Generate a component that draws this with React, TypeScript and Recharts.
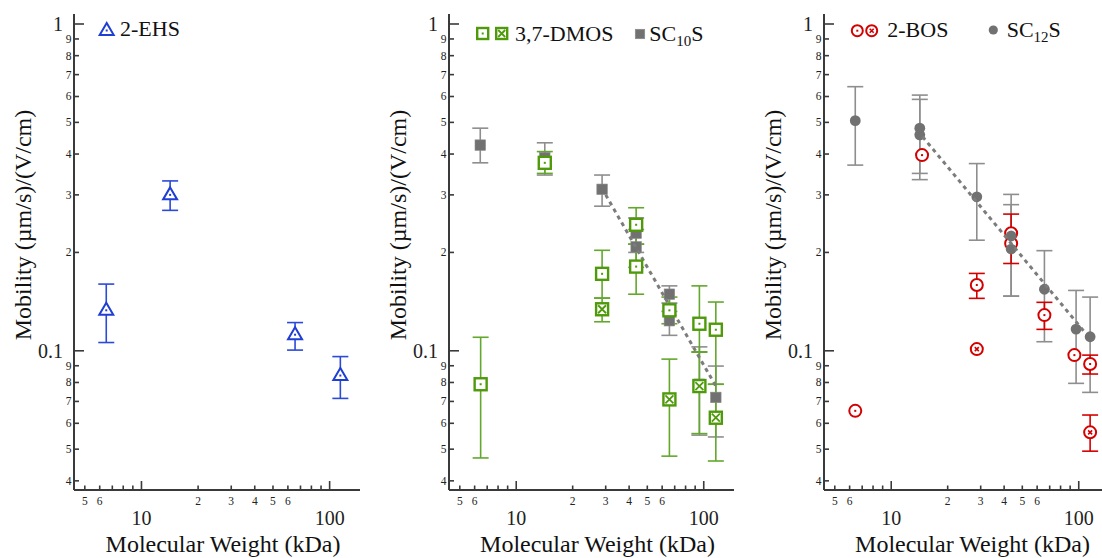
import { ScatterChart, Scatter, XAxis, YAxis, ErrorBar } from 'recharts';

const FONT = "'Liberation Serif', 'DejaVu Serif', 'Times New Roman', Times, serif";
const AXIS = '#3a3a3a';
const BLUE = '#1f3fd4';
const BLUE_ERR = '#2a4ad8';
const GREEN = '#4f9a0a';
const GREEN_ERR = '#63a82c';
const RED = '#d40000';
const GRAY = '#717171';
const GRAY_ERR = '#8e8e8e';

// axes
const xTicks = [5, 6, 7, 8, 9, 10, 20, 30, 40, 50, 60, 70, 80, 90, 100];
const xTickLabels = ['5', '6', '', '', '', '10', '2', '3', '4', '5', '6', '', '', '', '100'];
const xMajor = [10, 100];
const yTicks = [0.04, 0.05, 0.06, 0.07, 0.08, 0.09, 0.1, 0.2, 0.3, 0.4, 0.5, 0.6, 0.7, 0.8, 0.9, 1];
const yTickLabels = ['4', '5', '6', '7', '8', '9', '0.1', '2', '3', '4', '5', '6', '7', '8', '9', '1'];
const yMajor = [0.1, 1];
const xDomain = [4.38, 145];
const yDomain = [0.0375, 1.073];

// 2-EHS
const ehsX = [6.5, 14.2, 65.5, 114];
const ehsY = [0.133, 0.3, 0.112, 0.084];
const ehsLo = [0.106, 0.269, 0.1005, 0.0715];
const ehsHi = [0.16, 0.331, 0.122, 0.096];

// 3,7-DMOS (open square) and crossed square
const dmosX = [6.46, 14.2, 28.7, 43.6, 43.6, 65.6, 94.8, 116];
const dmosY = [0.079, 0.376, 0.172, 0.243, 0.181, 0.133, 0.121, 0.116];
const dmosLo = [0.047, 0.349, 0.145, 0.212, 0.149, 0.121, 0.099, 0.079];
const dmosHi = [0.11, 0.407, 0.203, 0.274, 0.212, 0.146, 0.158, 0.141];

const dmosxX = [28.7, 65.6, 94.8, 116];
const dmosxY = [0.134, 0.071, 0.078, 0.0624];
const dmosxLo = [0.1227, 0.0476, 0.0558, 0.046];
const dmosxHi = [0.145, 0.0943, 0.0993, 0.079];

// SC10S
const sc10X = [6.43, 14.2, 28.7, 43.6, 43.6, 65.6, 65.6, 94.8, 116];
const sc10Y = [0.426, 0.39, 0.312, 0.229, 0.208, 0.149, 0.1236, 0.079, 0.072];
const sc10Lo = [0.376, 0.345, 0.277, 0.2, 0.18, 0.14, 0.1115, 0.0552, 0.0545];
const sc10Hi = [0.48, 0.433, 0.345, 0.255, 0.235, 0.158, 0.132, 0.1028, 0.0898];
const fit10X = [30, 116];
const fit10Y = [0.3, 0.078];

// 2-BOS (open circle) and crossed circle
const bosX = [6.43, 14.6, 28.6, 43.6, 43.6, 65.6, 94.8, 115];
const bosY = [0.0655, 0.397, 0.159, 0.229, 0.213, 0.1286, 0.097, 0.0911];
const bosLo = [null, null, 0.1447, 0.185, null, 0.1163, null, 0.0849];
const bosHi = [null, null, 0.1725, 0.262, null, 0.1407, null, 0.097];

const bosxX = [28.6, 115];
const bosxY = [0.1012, 0.0563];
const bosxLo = [null, 0.0493];
const bosxHi = [null, 0.0636];

// SC12S
const sc12X = [6.43, 14.2, 14.2, 28.6, 43.6, 43.6, 65.6, 96.8, 115];
const sc12Y = [0.506, 0.48, 0.458, 0.296, 0.2245, 0.2048, 0.1543, 0.1165, 0.1104];
const sc12Lo = [0.37, 0.349, 0.334, 0.218, 0.147, 0.147, 0.1066, 0.0795, 0.0746];
const sc12Hi = [0.643, 0.606, 0.588, 0.374, 0.301, 0.28, 0.2025, 0.153, 0.146];
const fit12X = [14.7, 109];
const fit12Y = [0.452, 0.113];

const build = (xs: number[], ys: number[], lo?: (number | null)[], hi?: (number | null)[]) =>
  xs.map((x, i) => {
    const l = lo ? lo[i] : null;
    const h = hi ? hi[i] : null;
    return {
      x,
      y: ys[i],
      err: l != null && h != null ? [ys[i] - l, h - ys[i]] : undefined,
    };
  });

const ehsData = build(ehsX, ehsY, ehsLo, ehsHi);
const dmosData = build(dmosX, dmosY, dmosLo, dmosHi);
const dmosxData = build(dmosxX, dmosxY, dmosxLo, dmosxHi);
const sc10Data = build(sc10X, sc10Y, sc10Lo, sc10Hi);
const fit10Data = build(fit10X, fit10Y);
const bosData = build(bosX, bosY, bosLo, bosHi);
const bosxData = build(bosxX, bosxY, bosxLo, bosxHi);
const sc12Data = build(sc12X, sc12Y, sc12Lo, sc12Hi);
const fit12Data = build(fit12X, fit12Y);

// marker shapes
const Tri = ({ cx, cy }: any) => (
  <g>
    <polygon points={`${cx},${cy - 7.5} ${cx - 7},${cy + 4.5} ${cx + 7},${cy + 4.5}`} fill="#fff" stroke={BLUE} strokeWidth={2} />
    <rect x={cx - 1} y={cy - 1} width={2} height={2} fill={BLUE} />
  </g>
);
const SqDot = ({ cx, cy, s = 12 }: any) => (
  <g>
    <rect x={cx - s / 2} y={cy - s / 2} width={s} height={s} fill="#fff" stroke={GREEN} strokeWidth={2.4} />
    <rect x={cx - 1} y={cy - 1} width={2} height={2} fill={GREEN} />
  </g>
);
const SqX = ({ cx, cy, s = 12 }: any) => {
  const d = s / 2 - 2;
  return (
    <g>
      <rect x={cx - s / 2} y={cy - s / 2} width={s} height={s} fill="#fff" stroke={GREEN} strokeWidth={2.4} />
      <path d={`M${cx - d},${cy - d}L${cx + d},${cy + d}M${cx + d},${cy - d}L${cx - d},${cy + d}`} stroke={GREEN} strokeWidth={1.8} />
    </g>
  );
};
const GraySq = ({ cx, cy, s = 10.5 }: any) => (
  <rect x={cx - s / 2} y={cy - s / 2} width={s} height={s} fill={GRAY} stroke="#8a8a8a" strokeWidth={0.6} />
);
const CircDot = ({ cx, cy, r = 6 }: any) => (
  <g>
    <circle cx={cx} cy={cy} r={r} fill="#fff" stroke={RED} strokeWidth={2} />
    <rect x={cx - 1} y={cy - 1} width={2} height={2} fill={RED} />
  </g>
);
const CircX = ({ cx, cy, r = 6 }: any) => (
  <g>
    <circle cx={cx} cy={cy} r={r} fill="#fff" stroke={RED} strokeWidth={2} />
    <path d={`M${cx - 2},${cy - 2}L${cx + 2},${cy + 2}M${cx + 2},${cy - 2}L${cx - 2},${cy + 2}`} stroke={RED} strokeWidth={1.6} />
  </g>
);
const GrayCirc = ({ cx, cy, r = 5.4 }: any) => <circle cx={cx} cy={cy} r={r} fill={GRAY} />;
const Empty = () => <g />;

const serif = { fontFamily: FONT };

// ticks
const XTick = (props: any) => {
  const { x, y, payload } = props;
  const v = payload.value;
  const i = xTicks.indexOf(v);
  const major = xMajor.includes(v);
  const label = i >= 0 ? xTickLabels[i] : '';
  return (
    <g>
      <line x1={x} x2={x} y1={y} y2={y - (major ? 9 : 4.5)} stroke={AXIS} strokeWidth={1.6} />
      {label && (
        <text x={x} y={y + (major ? 35 : 15)} textAnchor="middle" fontSize={major ? 20 : 11.5} fill="#222" style={serif}>
          {label}
        </text>
      )}
    </g>
  );
};
const YTick = (props: any) => {
  const { x, y, payload } = props;
  const v = payload.value;
  const i = yTicks.indexOf(v);
  const major = yMajor.includes(v);
  return (
    <g>
      <line x1={x} x2={x + (major ? 10 : 5)} y1={y} y2={y} stroke={AXIS} strokeWidth={1.6} />
      <text x={x - (major ? 11 : 2.5)} y={y + (major ? 7 : 3.9)} textAnchor="end" fontSize={major ? 20 : 11.5} fill="#222" style={serif}>
        {i >= 0 ? yTickLabels[i] : ''}
      </text>
    </g>
  );
};

const XTitle = ({ cx, by }: any) => (
  <text x={cx} y={by} textAnchor="middle" fontSize={24} fill="#111" style={serif}>
    Molecular Weight (kDa)
  </text>
);
const YTitle = ({ bx, cy }: any) => (
  <text x={bx} y={cy} transform={`rotate(-90 ${bx} ${cy})`} textAnchor="middle" fontSize={24} fill="#111" style={serif}>
    Mobility (µm/s)/(V/cm)
  </text>
);

const Panel = ({ left, width, yAxisW, plotW, legend, children }: any) => (
  <div style={{ position: 'absolute', left, top: 0, width, height: 558 }}>
    <ScatterChart width={width} height={558} margin={{ top: 14, right: width - yAxisW - plotW, bottom: 0, left: 0 }}>
      <XAxis
        dataKey="x"
        type="number"
        scale="log"
        domain={xDomain}
        allowDataOverflow
        ticks={xTicks}
        interval={0}
        tick={(p: any) => <XTick {...p} />}
        tickSize={0}
        tickMargin={0}
        tickLine={false}
        axisLine={{ stroke: AXIS, strokeWidth: 2 }}
        height={68}
        label={<XTitle cx={yAxisW + plotW / 2 + 6} by={552} />}
      />
      <XAxis
        xAxisId="top"
        orientation="top"
        dataKey="x"
        type="number"
        scale="log"
        domain={xDomain}
        allowDataOverflow
        tick={false}
        tickLine={false}
        axisLine={{ stroke: AXIS, strokeWidth: 2 }}
        height={0}
      />
      <YAxis
        dataKey="y"
        type="number"
        scale="log"
        domain={yDomain}
        allowDataOverflow
        ticks={yTicks}
        interval={0}
        tick={(p: any) => <YTick {...p} />}
        tickSize={0}
        tickMargin={0}
        tickLine={false}
        axisLine={{ stroke: AXIS, strokeWidth: 2 }}
        width={yAxisW}
        label={<YTitle bx={yAxisW - 43} cy={225} />}
      />
      <YAxis
        yAxisId="right"
        orientation="right"
        dataKey="y"
        type="number"
        scale="log"
        domain={yDomain}
        allowDataOverflow
        tick={false}
        tickLine={false}
        axisLine={{ stroke: AXIS, strokeWidth: 2 }}
        width={0}
      />
      {children}
    </ScatterChart>
    <svg style={{ position: 'absolute', left: 0, top: 0, pointerEvents: 'none' }} width={width} height={60}>
      {legend}
    </svg>
  </div>
);

const legendText = { fontSize: 22, fill: '#111', style: serif };

export default function App() {
  return (
    <div
      style={{
        position: 'absolute',
        left: 0,
        top: 0,
        width: 1102,
        height: 558,
        overflow: 'hidden',
        background: '#fff',
        fontFamily: FONT,
      }}
    >
      <Panel
        left={0}
        width={370}
        yAxisW={74}
        plotW={286}
        legend={
          <g>
            <Tri cx={106.7} cy={30.5} />
            <text x={120} y={36} {...legendText}>2-EHS</text>
          </g>
        }
      >
        <Scatter data={ehsData} shape={(p: any) => <Tri {...p} />} isAnimationActive={false}>
          <ErrorBar dataKey="err" direction="y" width={8} stroke={BLUE_ERR} strokeWidth={1.6} />
        </Scatter>
      </Panel>

      <Panel
        left={370}
        width={370}
        yAxisW={79}
        plotW={285}
        legend={
          <g>
            <SqDot cx={112.7} cy={33.5} s={11} />
            <SqX cx={131.7} cy={33.5} s={11} />
            <text x={145} y={41} {...legendText}>3,7-DMOS</text>
            <GraySq cx={270} cy={34} s={9.5} />
            <text x={279.3} y={41} {...legendText}>
              SC<tspan fontSize={15} dy={5}>10</tspan>
              <tspan dy={-5}>S</tspan>
            </text>
          </g>
        }
      >
        <Scatter data={sc10Data} shape={(p: any) => <GraySq {...p} />} isAnimationActive={false}>
          <ErrorBar dataKey="err" direction="y" width={8} stroke={GRAY_ERR} strokeWidth={1.6} />
        </Scatter>
        <Scatter
          data={fit10Data}
          shape={Empty}
          line={{ stroke: '#7c7c7c', strokeWidth: 3, strokeDasharray: '4 4' }}
          isAnimationActive={false}
        />
        <Scatter data={dmosData} shape={(p: any) => <SqDot {...p} />} isAnimationActive={false}>
          <ErrorBar dataKey="err" direction="y" width={8} stroke={GREEN_ERR} strokeWidth={1.6} />
        </Scatter>
        <Scatter data={dmosxData} shape={(p: any) => <SqX {...p} />} isAnimationActive={false}>
          <ErrorBar dataKey="err" direction="y" width={8} stroke={GREEN_ERR} strokeWidth={1.6} />
        </Scatter>
      </Panel>

      <Panel
        left={740}
        width={375}
        yAxisW={84}
        plotW={285}
        legend={
          <g>
            <CircDot cx={117.3} cy={30.7} r={5.5} />
            <CircX cx={131.7} cy={30.7} r={5.5} />
            <text x={147.3} y={36.7} {...legendText}>2-BOS</text>
            <GrayCirc cx={253.3} cy={30} r={4.6} />
            <text x={266.7} y={36.7} {...legendText}>
              SC<tspan fontSize={15} dy={5}>12</tspan>
              <tspan dy={-5}>S</tspan>
            </text>
          </g>
        }
      >
        <Scatter data={sc12Data} shape={Empty} isAnimationActive={false}>
          <ErrorBar dataKey="err" direction="y" width={8} stroke={GRAY_ERR} strokeWidth={1.6} />
        </Scatter>
        <Scatter data={bosData} shape={(p: any) => <CircDot {...p} />} isAnimationActive={false}>
          <ErrorBar dataKey="err" direction="y" width={8} stroke={RED} strokeWidth={1.6} />
        </Scatter>
        <Scatter data={bosxData} shape={(p: any) => <CircX {...p} />} isAnimationActive={false}>
          <ErrorBar dataKey="err" direction="y" width={8} stroke={RED} strokeWidth={1.6} />
        </Scatter>
        <Scatter data={sc12Data} shape={(p: any) => <GrayCirc {...p} />} isAnimationActive={false} />
        <Scatter
          data={fit12Data}
          shape={Empty}
          line={{ stroke: '#7c7c7c', strokeWidth: 3, strokeDasharray: '4 4' }}
          isAnimationActive={false}
        />
      </Panel>
    </div>
  );
}
